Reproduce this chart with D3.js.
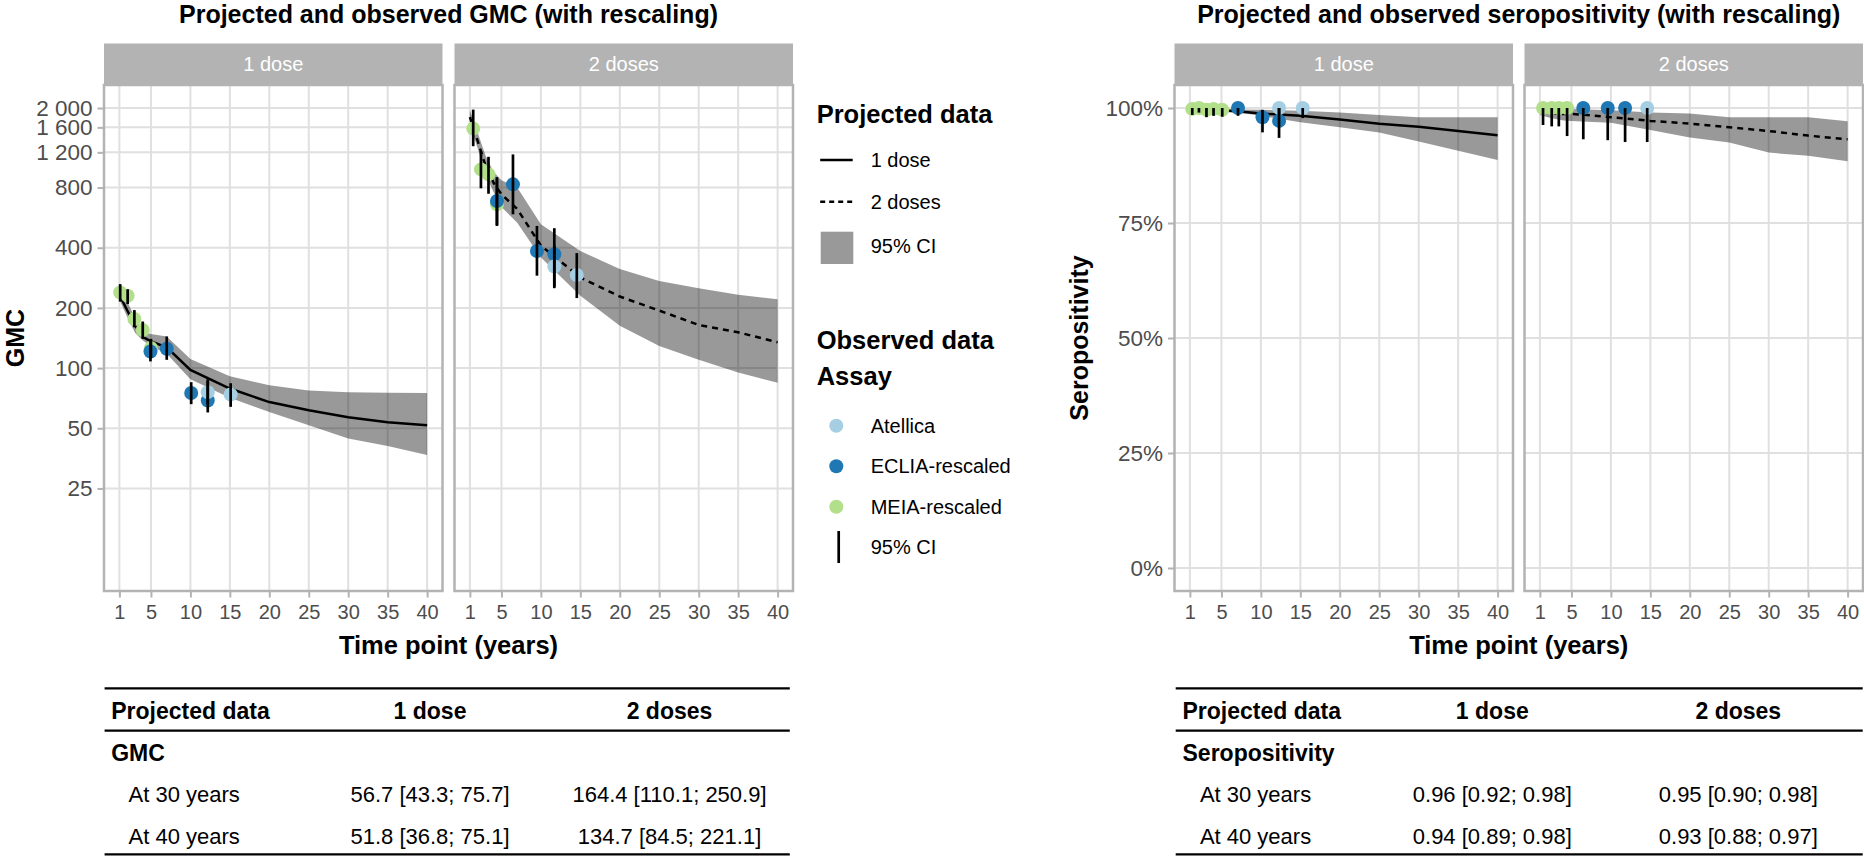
<!DOCTYPE html>
<html>
<head>
<meta charset="utf-8">
<script src="https://cdn.jsdelivr.net/npm/d3@7"></script>
<style>
body { margin: 0; background: #fff; }
svg { font-family: "Liberation Sans", Arial, sans-serif; }
</style>
</head>
<body>
<svg id="chart" width="1864" height="858"></svg>
<script>
// projected curves, one value per year in `years`
const years = [1, 2, 3, 4, 5, 7, 10, 15, 20, 25, 30, 35, 40];
const gmcFit1 = [233, 194, 163, 143, 136, 127, 98, 79, 67.6, 61.5, 56.7, 53.6, 51.8];
const gmcHi1 = [245, 215, 178, 151, 148, 144, 111, 91, 82, 77.3, 75.7, 75.3, 75.1];
const gmcLo1 = [220, 180, 150, 137, 129, 118, 88, 71, 60.3, 51.7, 44.5, 40.8, 36.8];
const gmcFit2 = [1800, 1364, 1023, 845, 740, 625, 410, 284, 228, 194, 164.4, 151, 134.7];
const gmcHi2 = [1950, 1500, 1150, 960, 870, 800, 524, 385, 313, 273, 250.9, 233, 221.1];
const gmcLo2 = [1650, 1250, 930, 760, 640, 534, 357, 230, 163, 129, 110.1, 95, 84.5];
const seroFit1 = [0.998, 0.997, 0.996, 0.996, 0.995, 0.993, 0.988, 0.983, 0.975, 0.966, 0.959, 0.95, 0.941];
const seroHi1 = [1, 1, 0.999, 0.999, 0.998, 0.997, 0.996, 0.994, 0.99, 0.985, 0.98, 0.98, 0.98];
const seroLo1 = [0.995, 0.994, 0.993, 0.992, 0.991, 0.99, 0.983, 0.969, 0.958, 0.947, 0.927, 0.907, 0.887];
const seroFit2 = [0.99, 0.989, 0.988, 0.987, 0.987, 0.985, 0.98, 0.972, 0.966, 0.958, 0.95, 0.94, 0.932];
const seroHi2 = [1, 1, 0.999, 0.999, 0.998, 0.997, 0.995, 0.99, 0.988, 0.98, 0.98, 0.98, 0.971];
const seroLo2 = [0.985, 0.98, 0.976, 0.973, 0.972, 0.97, 0.968, 0.952, 0.936, 0.925, 0.903, 0.896, 0.884];

// observed: [year, value, lower CI, upper CI, assay]
const gmcObs1 = [
    [1.1, 239, 215, 263, "MEIA-rescaled"], [2.05, 230, 209, 248, "MEIA-rescaled"],
    [2.9, 176, 160, 195, "MEIA-rescaled"], [3.96, 155, 140, 171, "MEIA-rescaled"],
    [5.0, 126, 112, 140, "MEIA-rescaled"],
    [4.94, 121, 108, 138, "ECLIA-rescaled"], [7.0, 125, 110, 144, "ECLIA-rescaled"],
    [10.1, 75, 66, 85, "ECLIA-rescaled"], [12.2, 68.9, 60, 88, "ECLIA-rescaled"],
    [12.2, 75.8, 66, 86, "Atellica"], [15.1, 73.8, 64, 84, "Atellica"]
];
const gmcObs2 = [
    [1.42, 1578, 1288, 1963, "MEIA-rescaled"], [2.4, 986, 793, 1216, "MEIA-rescaled"],
    [3.36, 931, 745, 1140, "MEIA-rescaled"], [4.43, 659, 520, 880, "MEIA-rescaled"],
    [4.43, 685, 514, 902, "ECLIA-rescaled"], [6.46, 830, 588, 1172, "ECLIA-rescaled"],
    [9.5, 385, 290, 514, "ECLIA-rescaled"], [11.7, 371, 251, 501, "ECLIA-rescaled"],
    [11.7, 322, 255, 410, "Atellica"], [14.55, 292, 224, 376, "Atellica"]
];
const seroObs1 = [
    [1.3, 0.998, 0.985, 1, "MEIA-rescaled"], [2.15, 1, 0.99, 1, "MEIA-rescaled"],
    [3.1, 0.996, 0.98, 1, "MEIA-rescaled"], [4.0, 0.998, 0.983, 1, "MEIA-rescaled"],
    [5.1, 0.996, 0.981, 1, "MEIA-rescaled"],
    [7.1, 1, 0.983, 1, "ECLIA-rescaled"], [10.2, 0.98, 0.947, 0.996, "ECLIA-rescaled"],
    [12.3, 0.972, 0.935, 1, "ECLIA-rescaled"],
    [12.3, 1, 0.985, 1, "Atellica"], [15.3, 1, 0.978, 1, "Atellica"]
];
const seroObs2 = [
    [1.4, 1, 0.963, 1, "MEIA-rescaled"], [2.5, 1, 0.96, 1, "MEIA-rescaled"],
    [3.4, 1, 0.96, 1, "MEIA-rescaled"], [4.45, 1, 0.939, 1, "MEIA-rescaled"],
    [6.5, 1, 0.932, 1, "ECLIA-rescaled"], [9.6, 1, 0.93, 1, "ECLIA-rescaled"],
    [11.8, 1, 0.926, 1, "ECLIA-rescaled"],
    [14.6, 1, 0.926, 1, "Atellica"]
];

const doses = ["1 dose", "2 doses"];
const assays = ["Atellica", "ECLIA-rescaled", "MEIA-rescaled"];
const assayColors = ["#a6cee3", "#1f78b4", "#b2df8a"];
const xTicks = [1, 5, 10, 15, 20, 25, 30, 35, 40];
const gmcTicks = [25, 50, 100, 200, 400, 800, 1200, 1600, 2000];
const gmcLimits = [10, 2000];
const seroTicks = [0, 0.25, 0.5, 0.75, 1];
const seroLimits = [0, 1];

const tableHead = ["Projected data", "1 dose", "2 doses"];
const gmcTable = [
    ["At 30 years", "56.7 [43.3; 75.7]", "164.4 [110.1; 250.9]"],
    ["At 40 years", "51.8 [36.8; 75.1]", "134.7 [84.5; 221.1]"]
];
const seroTable = [
    ["At 30 years", "0.96 [0.92; 0.98]", "0.95 [0.90; 0.98]"],
    ["At 40 years", "0.94 [0.89; 0.98]", "0.93 [0.88; 0.97]"]
];

const fmtGmc = d3.formatLocale({decimal: ".", thousands: " ", grouping: [3], currency: ["", ""]}).format(",");
const fmtPct = d3.format(".0%");
const colorOf = d3.scaleOrdinal().domain(assays).range(assayColors);

const Chart = {
    panelW: 338.5,
    top: 85,
    bottom: 591,
    init: function() {
        this.svg = d3.select("#chart");
        const lg0 = Math.log10(gmcLimits[0]), lg1 = Math.log10(gmcLimits[1]);
        const padLog = (lg1 - lg0) * 0.05;
        const gmcY = d3.scaleLog()
            .domain([Math.pow(10, lg0 - padLog), Math.pow(10, lg1 + padLog)])
            .range([this.bottom, this.top]);
        const padS = (seroLimits[1] - seroLimits[0]) * 0.05;
        const seroY = d3.scaleLinear()
            .domain([seroLimits[0] - padS, seroLimits[1] + padS])
            .range([this.bottom, this.top]);

        this._drawChart({
            title: "Projected and observed GMC (with rescaling)",
            panelX: [104, 454.5],
            y: gmcY, yTicks: gmcTicks, yFormat: fmtGmc,
            yTitle: "GMC", yTitleX: 23.5,
            fits: [gmcFit1, gmcFit2], his: [gmcHi1, gmcHi2], los: [gmcLo1, gmcLo2],
            obs: [gmcObs1, gmcObs2]
        });
        this._drawChart({
            title: "Projected and observed seropositivity (with rescaling)",
            panelX: [1174.5, 1524.5],
            y: seroY, yTicks: seroTicks, yFormat: fmtPct,
            yTitle: "Seropositivity", yTitleX: 1088,
            fits: [seroFit1, seroFit2], his: [seroHi1, seroHi2], los: [seroLo1, seroLo2],
            obs: [seroObs1, seroObs2]
        });
        this._drawLegend(816.7);
        this._drawTable(104.6, 789.8, [111.2, 430, 669.5], "GMC", gmcTable);
        this._drawTable(1175.7, 1862.7, [1182.5, 1492.3, 1738.3], "Seropositivity", seroTable);
    },
    _drawChart: function(opt) {
        const svg = this.svg;
        const self = this;
        const left = opt.panelX[0];
        const right = opt.panelX[1] + this.panelW;
        const mid = (left + right) / 2;

        svg.append("text")
            .attr("x", mid).attr("y", 23)
            .attr("text-anchor", "middle")
            .style("font-size", "25px").style("font-weight", "bold")
            .text(opt.title);

        opt.panelX.forEach(function(x0, i) {
            self._drawPanel(x0, i, opt);
        });

        // y axis only on the first facet
        const ax = svg.append("g")
            .attr("transform", "translate(" + left + ",0)")
            .call(d3.axisLeft(opt.y).tickValues(opt.yTicks).tickFormat(opt.yFormat).tickSize(6.5).tickPadding(5));
        ax.select(".domain").remove();
        ax.selectAll("line").attr("stroke", "#b3b3b3").attr("stroke-width", 2);
        ax.selectAll("text").attr("fill", "#4d4d4d").style("font-size", "22.5px").style("font-family", "Liberation Sans, Arial, sans-serif");

        svg.append("text")
            .attr("transform", "translate(" + opt.yTitleX + "," + (this.top + this.bottom) / 2 + ") rotate(-90)")
            .attr("text-anchor", "middle")
            .style("font-size", "25px").style("font-weight", "bold")
            .text(opt.yTitle);

        svg.append("text")
            .attr("x", mid).attr("y", 645)
            .attr("dominant-baseline", "central")
            .attr("text-anchor", "middle")
            .style("font-size", "25.5px").style("font-weight", "bold")
            .text("Time point (years)");
    },
    _drawPanel: function(x0, i, opt) {
        const svg = this.svg;
        const y = opt.y;
        const x = d3.scaleLinear()
            .domain([1 - 39 * 0.05, 40 + 39 * 0.05])
            .range([x0, x0 + this.panelW]);
        const g = svg.append("g");

        // strip
        g.append("rect")
            .attr("x", x0).attr("y", 43.5)
            .attr("width", this.panelW).attr("height", this.top - 43.5)
            .attr("fill", "#b3b3b3");
        g.append("text")
            .attr("x", x0 + this.panelW / 2).attr("y", 63.5)
            .attr("dominant-baseline", "central")
            .attr("text-anchor", "middle")
            .attr("fill", "#fff")
            .style("font-size", "20px")
            .text(doses[i]);

        // grid
        g.append("g").selectAll("line")
            .data(opt.yTicks).enter().append("line")
            .attr("x1", x0).attr("x2", x0 + this.panelW)
            .attr("y1", function(d) { return y(d); })
            .attr("y2", function(d) { return y(d); })
            .attr("stroke", "#e0e0e0").attr("stroke-width", 2);
        g.append("g").selectAll("line")
            .data(xTicks).enter().append("line")
            .attr("x1", function(d) { return x(d); })
            .attr("x2", function(d) { return x(d); })
            .attr("y1", this.top).attr("y2", this.bottom)
            .attr("stroke", "#e0e0e0").attr("stroke-width", 2);

        const proj = years.map(function(t, k) {
            return {t: t, fit: opt.fits[i][k], lo: opt.los[i][k], hi: opt.his[i][k]};
        });

        g.append("path")
            .datum(proj)
            .attr("fill", "#000").attr("fill-opacity", 0.4)
            .attr("d", d3.area()
                .x(function(d) { return x(d.t); })
                .y0(function(d) { return y(d.lo); })
                .y1(function(d) { return y(d.hi); }));

        g.append("path")
            .datum(proj)
            .attr("fill", "none").attr("stroke", "#000")
            .attr("stroke-width", 2.5)
            .attr("stroke-dasharray", i === 1 ? "6,5" : null)
            .attr("d", d3.line()
                .x(function(d) { return x(d.t); })
                .y(function(d) { return y(d.fit); }));

        const obs = opt.obs[i];
        g.append("g").selectAll("circle")
            .data(obs).enter().append("circle")
            .attr("cx", function(d) { return x(d[0]); })
            .attr("cy", function(d) { return y(d[1]); })
            .attr("r", 7)
            .attr("fill", function(d) { return colorOf(d[4]); });

        g.append("g").selectAll("line")
            .data(obs).enter().append("line")
            .attr("x1", function(d) { return x(d[0]); })
            .attr("x2", function(d) { return x(d[0]); })
            .attr("y1", function(d) { return y(d[2]); })
            .attr("y2", function(d) { return y(d[3]); })
            .attr("stroke", "#000").attr("stroke-width", 2.7);

        // border
        g.append("rect")
            .attr("x", x0).attr("y", this.top)
            .attr("width", this.panelW).attr("height", this.bottom - this.top)
            .attr("fill", "none").attr("stroke", "#b3b3b3").attr("stroke-width", 2.5);

        const ax = g.append("g")
            .attr("transform", "translate(0," + this.bottom + ")")
            .call(d3.axisBottom(x).tickValues(xTicks).tickSize(6.5).tickPadding(7));
        ax.select(".domain").remove();
        ax.selectAll("line").attr("stroke", "#b3b3b3").attr("stroke-width", 2);
        ax.selectAll("text").attr("fill", "#4d4d4d").style("font-size", "20px").style("font-family", "Liberation Sans, Arial, sans-serif");
    },
    _drawLegend: function(lx) {
        const g = this.svg.append("g");
        const bold = function(txt, yy) {
            g.append("text").attr("x", lx).attr("y", yy)
                .style("font-size", "25.5px").style("font-weight", "bold").text(txt);
        };
        const label = function(txt, yy) {
            g.append("text").attr("x", lx + 54).attr("y", yy)
                .attr("dominant-baseline", "central")
                .style("font-size", "20px").text(txt);
        };
        bold("Projected data", 122.7);
        g.append("line").attr("x1", lx + 3.5).attr("x2", lx + 36).attr("y1", 160).attr("y2", 160)
            .attr("stroke", "#000").attr("stroke-width", 2.5);
        label(doses[0], 160);
        g.append("line").attr("x1", lx + 3.5).attr("x2", lx + 36).attr("y1", 201.7).attr("y2", 201.7)
            .attr("stroke", "#000").attr("stroke-width", 2.5).attr("stroke-dasharray", "5,4");
        label(doses[1], 201.7);
        g.append("rect").attr("x", lx + 4).attr("y", 231.7).attr("width", 32.6).attr("height", 32.3)
            .attr("fill", "#000").attr("fill-opacity", 0.4);
        label("95% CI", 246);

        bold("Observed data", 349.3);
        bold("Assay", 385);
        assays.forEach(function(a, k) {
            const yy = 425.7 + k * 40.5;
            g.append("circle").attr("cx", lx + 19.6).attr("cy", yy).attr("r", 7).attr("fill", colorOf(a));
            label(a, yy);
        });
        g.append("line").attr("x1", lx + 22).attr("x2", lx + 22).attr("y1", 531).attr("y2", 563)
            .attr("stroke", "#000").attr("stroke-width", 2.7);
        label("95% CI", 547);
    },
    _drawTable: function(x0, x1, cols, group, rows) {
        const g = this.svg.append("g");
        [688.3, 730.7, 854.3].forEach(function(yy) {
            g.append("line").attr("x1", x0).attr("x2", x1).attr("y1", yy).attr("y2", yy)
                .attr("stroke", "#000").attr("stroke-width", 2.3);
        });
        tableHead.forEach(function(h, k) {
            g.append("text")
                .attr("x", cols[k]).attr("y", 711)
                .attr("dominant-baseline", "central")
                .attr("text-anchor", k === 0 ? "start" : "middle")
                .style("font-size", "23px").style("font-weight", "bold")
                .text(h);
        });
        g.append("text")
            .attr("x", cols[0]).attr("y", 752.7)
            .attr("dominant-baseline", "central")
            .style("font-size", "23px").style("font-weight", "bold")
            .text(group);
        rows.forEach(function(r, j) {
            const yy = 794.3 + j * 41.7;
            r.forEach(function(c, k) {
                g.append("text")
                    .attr("x", k === 0 ? cols[0] + 17.4 : cols[k]).attr("y", yy)
                    .attr("dominant-baseline", "central")
                    .attr("text-anchor", k === 0 ? "start" : "middle")
                    .style("font-size", "22px")
                    .text(c);
            });
        });
    }
};

Chart.init();
</script>
</body>
</html>
